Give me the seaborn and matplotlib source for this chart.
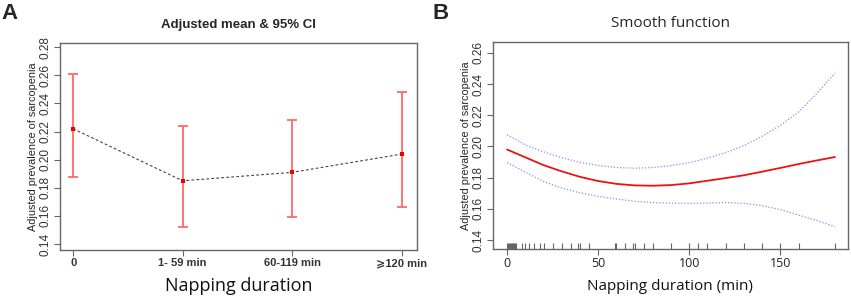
import numpy as np
import pandas as pd
import matplotlib
matplotlib.use("Agg")
import matplotlib.pyplot as plt
import seaborn as sns

# Panel A: adjusted mean & 95% CI by napping group
groups = ["0", "1- 59 min", "60-119 min", "\u2a7e120 min"]
adj_mean = [0.222, 0.185, 0.191, 0.204]
ci_low = [0.188, 0.152, 0.159, 0.166]
ci_high = [0.261, 0.224, 0.228, 0.248]

# Panel B: smooth function
nap_min = [0, 10, 20, 30, 40, 50, 60, 70, 80, 90, 100, 110, 120, 130, 140, 150, 160, 170, 180]
fit = [0.198, 0.193, 0.188, 0.184, 0.1805, 0.1778, 0.176, 0.175, 0.1748, 0.1752, 0.1763,
       0.178, 0.1797, 0.1815, 0.1838, 0.1862, 0.1887, 0.191, 0.1932]
fit_upper = [0.2075, 0.201, 0.1965, 0.1928, 0.1898, 0.1878, 0.1865, 0.186, 0.1865, 0.1877,
             0.1895, 0.1925, 0.196, 0.2005, 0.2065, 0.2135, 0.222, 0.234, 0.247]
fit_lower = [0.1897, 0.1835, 0.1775, 0.1733, 0.1702, 0.168, 0.1663, 0.1648, 0.1640, 0.1636,
             0.1635, 0.1637, 0.1640, 0.1635, 0.1620, 0.1595, 0.1560, 0.1525, 0.1485]
rug_x = [0, 0.5, 1, 1.5, 2, 2.5, 3, 3.5, 4, 4.5, 5, 8, 10, 12, 15, 18, 20, 25, 30, 35, 39, 40,
         45, 59, 60, 65, 69, 70, 75, 80, 90, 100, 105, 110, 120, 130, 140, 150, 160, 180]

sns.set_style("white")
plt.rcParams["font.family"] = ["Liberation Sans", "DejaVu Sans"]

fig = plt.figure(figsize=(8.51, 2.97), dpi=100)
ax1 = fig.add_axes([0.0705, 0.158, 0.4195, 0.697])
ax2 = fig.add_axes([0.579, 0.1616, 0.4171, 0.697])

spine_col = "#666666"
narrow = ["Liberation Sans Narrow", "Liberation Sans", "DejaVu Sans"]
calib = ["Open Sans", "DejaVu Sans"]

# ---- Panel A
pos = np.arange(len(groups))
df_a = pd.DataFrame({"pos": pos, "mean": adj_mean})
sns.lineplot(data=df_a, x="pos", y="mean", ax=ax1, color="#444444", linestyle=(0, (2.5, 2)),
             linewidth=0.8)
yerr = [np.array(adj_mean) - np.array(ci_low), np.array(ci_high) - np.array(adj_mean)]
ax1.errorbar(pos, adj_mean, yerr=yerr, fmt="none", ecolor="#ff6a6a", elinewidth=1.3,
             capsize=3.6, capthick=1.3)
sns.scatterplot(data=df_a, x="pos", y="mean", ax=ax1, color="#e80000", marker="s", s=8,
                linewidth=0, zorder=5)
ax1.set_xlim(-0.12, 3.14)
ax1.set_ylim(0.1357, 0.283)
ax1.set_xticks(pos)
ax1.set_xticklabels(groups, fontsize=8, fontweight="bold", color="#333333",
                    family=["Liberation Sans", "DejaVu Sans"])
ax1.set_yticks(np.arange(0.14, 0.281, 0.02))
ax1.set_yticklabels([f"{v:.2f}" for v in np.arange(0.14, 0.281, 0.02)], rotation=90,
                    va="center", fontsize=8.5, family=narrow, color="#333333")
ax1.set_xlabel("Napping duration", fontsize=13, family=calib, color="#111111", labelpad=6)
ax1.set_ylabel("Adjusted prevalence of sarcopenia", fontsize=7.8, family=narrow, labelpad=1)
ax1.set_title("Adjusted mean & 95% CI", fontsize=9.5, fontweight="bold", pad=11)

# ---- Panel B
df_b = pd.DataFrame({"x": nap_min, "fit": fit, "up": fit_upper, "lo": fit_lower})
sns.lineplot(data=df_b, x="x", y="up", ax=ax2, color="#8a8af5", linestyle=(0, (1, 1.5)),
             linewidth=0.9)
sns.lineplot(data=df_b, x="x", y="lo", ax=ax2, color="#8a8af5", linestyle=(0, (1, 1.5)),
             linewidth=0.9)
sns.lineplot(data=df_b, x="x", y="fit", ax=ax2, color="#ee1111", linewidth=1.3)
sns.rugplot(x=rug_x, ax=ax2, height=0.03, color="#666666", linewidth=0.8)
ax2.set_xlim(-7.9, 187)
ax2.set_ylim(0.1342, 0.267)
ax2.set_xticks([0, 50, 100, 150])
ax2.set_xticklabels(["0", "50", "100", "150"], fontsize=9, family=calib, color="#222222")
ax2.set_yticks(np.arange(0.14, 0.261, 0.02))
ax2.set_yticklabels([f"{v:.2f}" for v in np.arange(0.14, 0.261, 0.02)], rotation=90,
                    va="center", fontsize=8.5, family=narrow, color="#333333")
ax2.set_xlabel("Napping duration (min)", fontsize=11, family=calib, color="#111111", labelpad=6)
ax2.set_ylabel("Adjusted prevalence of sarcopenia", fontsize=7.8, family=narrow, labelpad=1)
ax2.set_title("Smooth function", fontsize=11, family=calib, pad=11)

for ax in (ax1, ax2):
    for s in ax.spines.values():
        s.set_color(spine_col)
        s.set_linewidth(1.0)
    ax.tick_params(axis="both", which="both", direction="out", length=4, width=0.8,
                   color=spine_col, pad=2, bottom=True, left=True)

fig.text(0.002, 0.99, "A", fontsize=16, fontweight="bold", va="top", ha="left")
fig.text(0.508, 0.99, "B", fontsize=16, fontweight="bold", va="top", ha="left")

fig.savefig("out.png", dpi=100)
